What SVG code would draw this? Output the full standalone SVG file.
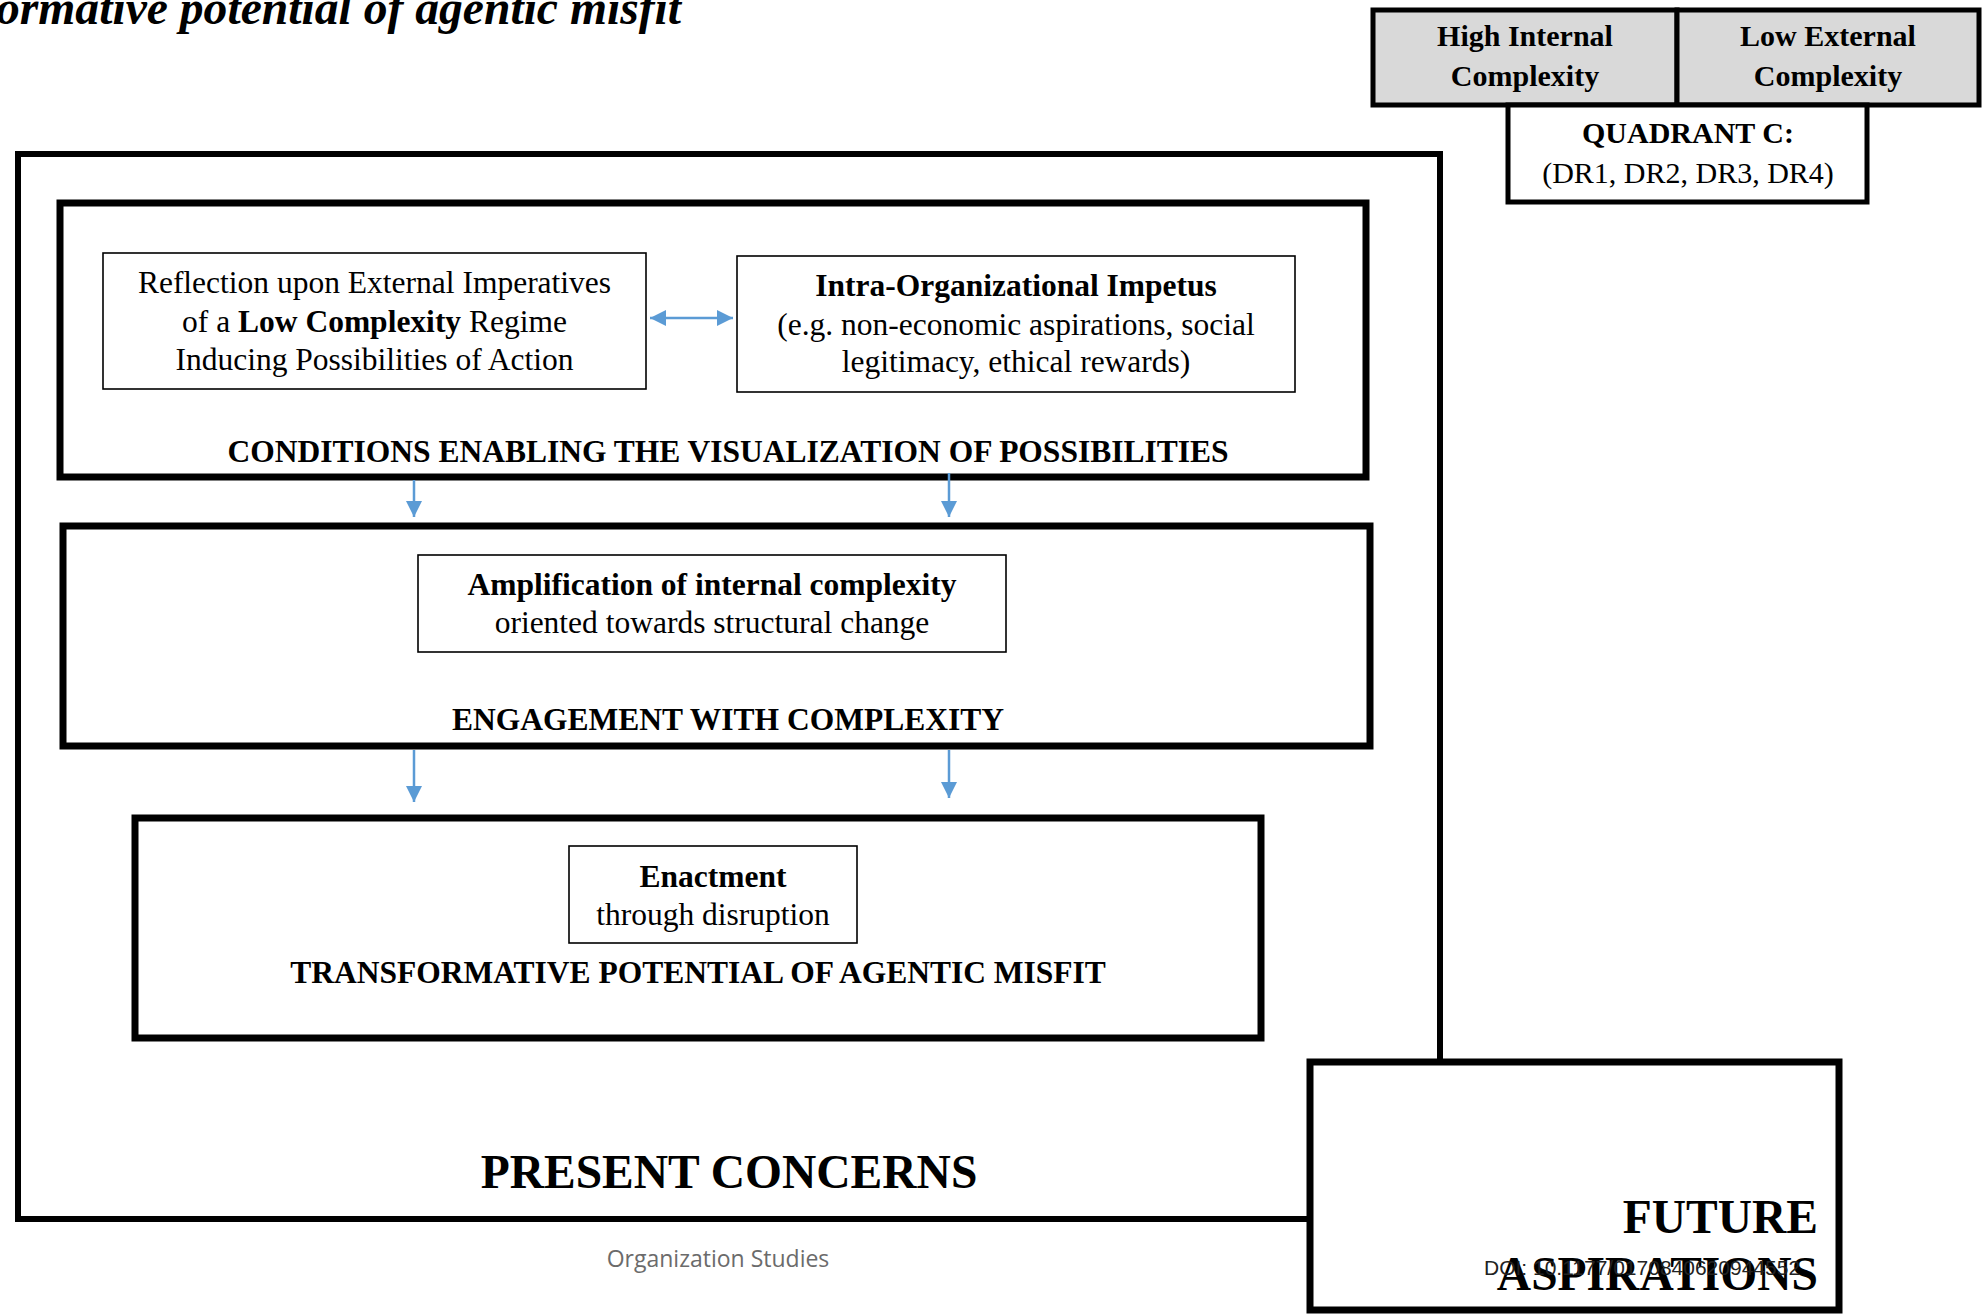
<svg xmlns="http://www.w3.org/2000/svg" width="1982" height="1314" viewBox="0 0 1982 1314">
<defs>
<style>
.frame{fill:#fff;stroke:#000;stroke-width:7}
.thin{fill:#fff;stroke:#000;stroke-width:1.6}
.hdr{fill:#d9d9d9;stroke:#000;stroke-width:5}
.qd{fill:#fff;stroke:#000;stroke-width:5}
.t{font-family:"Liberation Serif","Times New Roman",serif;font-size:31.5px;fill:#000;text-anchor:middle}
.b{font-weight:bold}
.big{font-family:"Liberation Serif","Times New Roman",serif;font-size:47.5px;font-weight:bold;fill:#000}
.conn{stroke:#5B9BD5;stroke-width:2.5;fill:none}
</style>
<marker id="ah" markerUnits="userSpaceOnUse" markerWidth="16" markerHeight="16" viewBox="0 0 10 10" refX="10" refY="5" orient="auto-start-reverse">
<path d="M0,0 L10,5 L0,10 z" fill="#5B9BD5"/>
</marker>
</defs>
<rect width="1982" height="1314" fill="#fff"/>

<text id="title" x="-4" y="24" textLength="685" lengthAdjust="spacingAndGlyphs" style="font-family:'Liberation Serif','Times New Roman',serif;font-size:48px;font-weight:bold;font-style:italic">ormative potential of agentic misfit</text>

<g id="present-concerns">
<rect class="frame" x="18" y="154" width="1422" height="1065" style="stroke-width:6"/>
<text class="big" x="729" y="1188" text-anchor="middle">PRESENT CONCERNS</text>
</g>

<g id="future-aspirations">
<rect class="frame" x="1310" y="1062" width="529" height="248"/>
<text class="big" x="1818" y="1233" text-anchor="end">FUTURE</text>
<text class="big" x="1818" y="1290" text-anchor="end">ASPIRATIONS</text>
</g>

<g id="header">
<rect class="hdr" x="1373" y="10" width="304" height="95"/>
<rect class="hdr" x="1677" y="10" width="302" height="95"/>
<text class="t b" x="1525" y="46" style="font-size:30px">High Internal</text>
<text class="t b" x="1525" y="86" style="font-size:30px">Complexity</text>
<text class="t b" x="1828" y="46" style="font-size:30px">Low External</text>
<text class="t b" x="1828" y="86" style="font-size:30px">Complexity</text>
</g>

<g id="quadrant">
<rect class="qd" x="1508" y="105" width="359" height="97"/>
<text class="t b" x="1688" y="143" style="font-size:30px">QUADRANT C:</text>
<text class="t" x="1688" y="183" style="font-size:30px">(DR1, DR2, DR3, DR4)</text>
</g>

<g id="conditions">
<rect class="frame" x="60" y="203" width="1306" height="274"/>
<text class="t b" x="728" y="462">CONDITIONS ENABLING THE VISUALIZATION OF POSSIBILITIES</text>
</g>

<g id="reflection">
<rect class="thin" x="103" y="253" width="543" height="136"/>
<text class="t" x="374.5" y="293">Reflection upon External Imperatives</text>
<text class="t" x="374.5" y="332">of a <tspan class="b">Low Complexity</tspan> Regime</text>
<text class="t" x="374.5" y="370">Inducing Possibilities of Action</text>
</g>

<g id="intra">
<rect class="thin" x="737" y="256" width="558" height="136"/>
<text class="t b" x="1016" y="296">Intra-Organizational Impetus</text>
<text class="t" x="1016" y="335">(e.g. non-economic aspirations, social</text>
<text class="t" x="1016" y="372">legitimacy, ethical rewards)</text>
</g>

<g id="engagement">
<rect class="frame" x="63" y="526" width="1307" height="220"/>
<text class="t b" x="728" y="730">ENGAGEMENT WITH COMPLEXITY</text>
</g>

<g id="amplification">
<rect class="thin" x="418" y="555" width="588" height="97"/>
<text class="t b" x="712" y="595">Amplification of internal complexity</text>
<text class="t" x="712" y="633">oriented towards structural change</text>
</g>

<g id="transformative">
<rect class="frame" x="135" y="818" width="1126" height="220"/>
<text class="t b" x="698" y="983">TRANSFORMATIVE POTENTIAL OF AGENTIC MISFIT</text>
</g>

<g id="enactment">
<rect class="thin" x="569" y="846" width="288" height="97"/>
<text class="t b" x="713" y="887">Enactment</text>
<text class="t" x="713" y="925">through disruption</text>
</g>

<g id="connectors">
<line class="conn" x1="650" y1="318" x2="733" y2="318" marker-start="url(#ah)" marker-end="url(#ah)"/>
<line class="conn" x1="414" y1="480" x2="414" y2="517" marker-end="url(#ah)"/>
<line class="conn" x1="949" y1="473" x2="949" y2="517" marker-end="url(#ah)"/>
<line class="conn" x1="414" y1="750" x2="414" y2="802" marker-end="url(#ah)"/>
<line class="conn" x1="949" y1="750" x2="949" y2="798" marker-end="url(#ah)"/>
</g>

<text id="journal" x="718" y="1267" text-anchor="middle" style="font-family:'Open Sans','Noto Sans',sans-serif;font-size:23px;fill:#6b6b6b">Organization Studies</text>
<text id="doi" x="1484" y="1275" style="font-family:'Liberation Sans',Arial,sans-serif;font-size:21px;fill:#222">DOI: 10.1177/0170840620944552</text>
</svg>
